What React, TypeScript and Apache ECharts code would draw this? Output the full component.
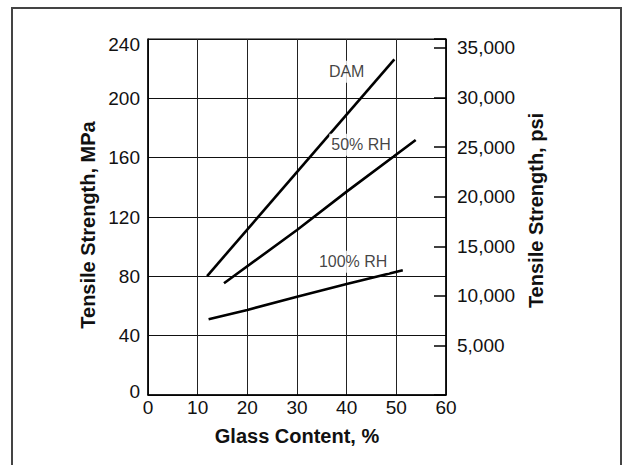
import React, { useEffect, useRef } from "react";
import * as echarts from "echarts";

// Data
const damX = [11.9, 49.6];
const damY = [80.2, 226.3];
const rh50X = [15.3, 30, 40, 53.9];
const rh50Y = [75.3, 111.2, 137.1, 171.9];
const rh100X = [12.2, 20, 30, 40, 51.3];
const rh100Y = [51.0, 57.3, 66.3, 74.8, 84.1];

const curveNames = ["DAM", "50% RH", "100% RH"];
const curveLabelX = [40, 42.9, 41.3];
const curveLabelY = [218, 168.7, 89.8];

const xTicks = [0, 10, 20, 30, 40, 50, 60];
const mpaTicks = [0, 40, 80, 120, 160, 200, 240];
const psiTicks = [5000, 10000, 15000, 20000, 25000, 30000, 35000];

const FONT = "'Liberation Sans', Arial, Helvetica, sans-serif";

const zip = (xs: number[], ys: number[]) => xs.map((x, i) => [x, ys[i]]);

export default function App() {
  const ref = useRef<HTMLDivElement>(null);

  useEffect(() => {
    if (!ref.current) return;
    const chart = echarts.init(ref.current, undefined, { renderer: "svg" });
    const lineStyle = { color: "#000", width: 2.6 };
    const option: any = {
      animation: false,
      backgroundColor: "#fff",
      textStyle: { fontFamily: FONT, color: "#111" },
      grid: {
        left: 148,
        right: 180,
        top: 39,
        bottom: 70,
        show: true,
        borderColor: "#000",
        borderWidth: 1,
      },
      graphic: [
        {
          type: "polyline",
          shape: { points: [[12, 470], [12, 8], [621, 8], [621, 470]] },
          style: { stroke: "#444", lineWidth: 2, fill: "none" },
          silent: true,
        },
      ],
      xAxis: {
        type: "value",
        min: xTicks[0],
        max: xTicks[xTicks.length - 1],
        interval: 10,
        name: "Glass Content, %",
        nameLocation: "middle",
        nameGap: 31,
        nameTextStyle: { fontSize: 20, fontWeight: "bold", color: "#111", fontFamily: FONT },
        axisLine: { show: true, lineStyle: { color: "#000", width: 1.5 } },
        axisTick: { show: false },
        axisLabel: { fontSize: 19, color: "#111", margin: 3, fontFamily: FONT },
        splitLine: { show: true, lineStyle: { color: "#222", width: 1 } },
      },
      yAxis: [
        {
          type: "value",
          min: mpaTicks[0],
          max: mpaTicks[mpaTicks.length - 1],
          interval: 40,
          name: "Tensile Strength, MPa",
          nameLocation: "middle",
          nameGap: 50,
          nameTextStyle: {
            fontSize: 20,
            fontWeight: "bold",
            color: "#111",
            fontFamily: FONT,
            padding: [0, 16, 0, 0],
          },
          axisLine: { show: true, lineStyle: { color: "#000", width: 1.5 } },
          axisTick: { show: false },
          axisLabel: {
            fontSize: 19,
            color: "#111",
            margin: 8,
            fontFamily: FONT,
            formatter: (v: number) =>
              v === 240 ? "{top|240}" : v === 0 ? "{bot|0}" : String(v),
            rich: {
              top: { fontSize: 19, color: "#111", fontFamily: FONT, padding: [10, 0, 0, 0] },
              bot: { fontSize: 19, color: "#111", fontFamily: FONT, padding: [0, 0, 8, 0] },
            },
          },
          splitLine: { show: true, lineStyle: { color: "#111", width: 1 } },
        },
        {
          type: "value",
          position: "right",
          min: 0,
          max: 35900,
          interval: 5000,
          name: "Tensile Strength, psi",
          nameLocation: "middle",
          nameGap: 80,
          nameTextStyle: {
            fontSize: 20,
            fontWeight: "bold",
            color: "#111",
            fontFamily: FONT,
            padding: [0, 0, 0, 13],
          },
          axisLine: { show: true, lineStyle: { color: "#000", width: 1.5 } },
          axisTick: { show: true, inside: true, length: 12, lineStyle: { color: "#000", width: 1.5 } },
          axisLabel: {
            fontSize: 19,
            color: "#111",
            margin: 11,
            fontFamily: FONT,
            formatter: (v: number) =>
              psiTicks.indexOf(v) >= 0 ? v.toLocaleString("en-US") : "",
          },
          splitLine: { show: false },
        },
      ],
      series: [
        {
          name: curveNames[0],
          type: "line",
          data: zip(damX, damY),
          showSymbol: false,
          lineStyle,
          z: 3,
        },
        {
          name: curveNames[1],
          type: "line",
          data: zip(rh50X, rh50Y),
          showSymbol: false,
          lineStyle,
          z: 3,
        },
        {
          name: curveNames[2],
          type: "line",
          data: zip(rh100X, rh100Y),
          showSymbol: false,
          lineStyle,
          z: 3,
        },
        {
          name: "labels",
          type: "scatter",
          symbolSize: 0,
          data: curveNames.map((n, i) => [curveLabelX[i], curveLabelY[i], n]),
          z: 4,
          label: {
            show: true,
            position: "inside",
            formatter: (p: any) => p.data[2],
            fontSize: 16,
            color: "#111",
            fontFamily: FONT,
            backgroundColor: "#fff",
            padding: [3, 2],
          },
        },
      ],
    };
    chart.setOption(option);
    return () => chart.dispose();
  }, []);

  return (
    <div
      ref={ref}
      style={{ position: "fixed", left: 0, top: 0, width: 626, height: 465, background: "#fff" }}
    />
  );
}
